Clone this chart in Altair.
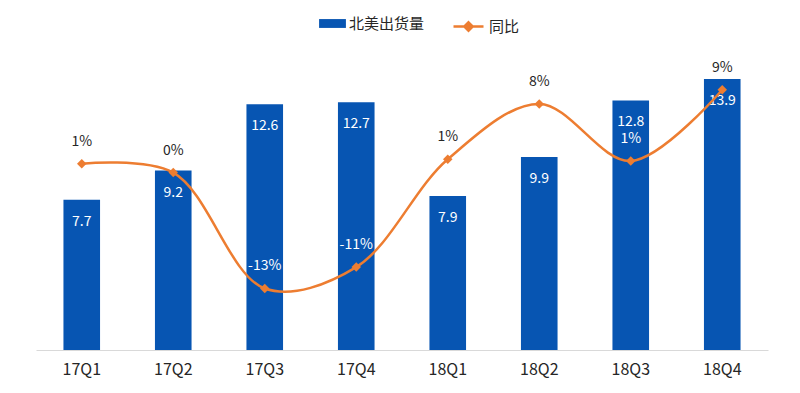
import altair as alt
import pandas as pd

quarters = ["17Q1", "17Q2", "17Q3", "17Q4", "18Q1", "18Q2", "18Q3", "18Q4"]
shipments = [7.7, 9.2, 12.6, 12.7, 7.9, 9.9, 12.8, 13.9]
yoy = [0.9, -0.1, -13.1, -10.7, 1.4, 7.6, 1.2, 9.2]
bar_name = "北美出货量"
line_name = "同比"

BLUE = "#0755B2"
ORANGE = "#ED7D31"
TEXT = "#262626"
FONT = "Noto Sans CJK SC"

W, H = 732, 312
BAR_DOMAIN = [0, 16]
LINE_DOMAIN = [-19.67, 15.0]

df = pd.DataFrame({"quarter": quarters, "shipments": shipments, "yoy": yoy})
df["ship_label"] = [f"{v:.1f}" for v in shipments]
df["yoy_label"] = [f"{int(round(v))}%" for v in yoy]
df["bar_series"] = bar_name
df["line_series"] = line_name


def _inside(s, y):
    bar_top = H - (s - BAR_DOMAIN[0]) / (BAR_DOMAIN[1] - BAR_DOMAIN[0]) * H
    lab = H - (y - LINE_DOMAIN[0]) / (LINE_DOMAIN[1] - LINE_DOMAIN[0]) * H - 22
    return bool(lab > bar_top + 8)


df["inside"] = [_inside(s, y) for s, y in zip(shipments, yoy)]

base = alt.Chart(df).encode(
    x=alt.X(
        "quarter:N",
        sort=quarters,
        scale=alt.Scale(paddingInner=0.6, paddingOuter=0.3),
        axis=alt.Axis(
            title=None, labelAngle=0, ticks=False, domainColor="#D9D9D9",
            domainWidth=1, labelFontSize=16, labelColor=TEXT, labelPadding=11,
            labelFont=FONT,
        ),
    )
)

bars = base.mark_bar().encode(
    y=alt.Y("shipments:Q", scale=alt.Scale(domain=BAR_DOMAIN), axis=None),
    color=alt.Color(
        "bar_series:N",
        scale=alt.Scale(domain=[bar_name], range=[BLUE]),
        legend=alt.Legend(
            title=None, orient="none", legendX=283, legendY=-28,
            symbolType="M-1,-0.33L1,-0.33L1,0.33L-1,0.33Z", symbolSize=720,
            symbolStrokeWidth=0, labelFontSize=15, labelFont=FONT,
            labelColor=TEXT, labelOffset=3,
        ),
    ),
)
bar_text = base.mark_text(dy=22, color="white", fontSize=14, font=FONT).encode(
    y=alt.Y("shipments:Q"), text="ship_label:N"
)
bar_layer = alt.layer(bars, bar_text)

line = base.mark_line(interpolate="catmull-rom", strokeWidth=2.5).encode(
    y=alt.Y("yoy:Q", scale=alt.Scale(domain=LINE_DOMAIN), axis=None),
    stroke=alt.Stroke(
        "line_series:N",
        scale=alt.Scale(domain=[line_name], range=[ORANGE]),
        legend=alt.Legend(
            title=None, orient="none", legendX=416, legendY=-28,
            symbolType="M-1,0L1,0M0,-0.28L0.28,0L0,0.28L-0.28,0Z",
            symbolSize=900, symbolFillColor=ORANGE, symbolStrokeWidth=2.5,
            labelFontSize=15, labelFont=FONT, labelColor=TEXT, labelOffset=4,
        ),
    ),
)
points = base.mark_point(shape="diamond", filled=True, size=90, color=ORANGE, opacity=1).encode(
    y=alt.Y("yoy:Q")
)
line_text = base.mark_text(dy=-22, fontSize=14, font=FONT).encode(
    y=alt.Y("yoy:Q"),
    text="yoy_label:N",
    color=alt.condition("datum.inside", alt.value("white"), alt.value(TEXT)),
)
line_layer = alt.layer(line, points, line_text)

chart = (
    alt.layer(bar_layer, line_layer)
    .resolve_scale(y="independent")
    .properties(
        width=W, height=H,
        autosize=alt.AutoSizeParams(type="none"),
        padding={"left": 28, "top": 30, "right": 16, "bottom": 30},
    )
    .configure_view(stroke=None)
)

chart.save("out.html", embed_options={"renderer": "svg", "actions": False})
